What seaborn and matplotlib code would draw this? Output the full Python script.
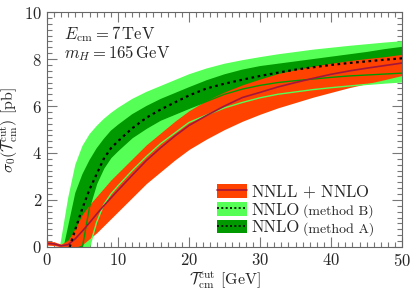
import numpy as np
import pandas as pd
import matplotlib
matplotlib.use("Agg")
import matplotlib.pyplot as plt
import seaborn as sns
from matplotlib.patches import Patch
from matplotlib.lines import Line2D
from matplotlib.ticker import MultipleLocator

# Tcm cut values [GeV]
tcut = [0, 1, 2, 3, 4, 5, 6, 7, 8, 9, 10, 12, 14, 16, 18, 20, 22.5, 25, 27.5,
        30, 32.5, 35, 37.5, 40, 42.5, 45, 47.5, 50]

# NNLL+NNLO: central, upper, lower
resum_c = [0.15, 0.13, 0.05, 0.1, 0.35, 0.68, 1.03, 1.4, 1.75, 2.08, 2.41, 3.05, 3.68, 4.22,
           4.72, 5.17, 5.6, 6.0, 6.36, 6.58, 6.81, 7.0, 7.18, 7.35, 7.49, 7.61, 7.72, 7.83]
resum_hi = [0.25, 0.22, 0.12, 0.3, 0.8, 1.4, 1.8, 2.15, 2.5, 2.85, 3.15, 3.75, 4.35, 4.85,
            5.35, 5.8, 6.25, 6.6, 6.9, 7.15, 7.38, 7.55, 7.7, 7.82, 7.93, 8.02, 8.1, 8.2]
resum_lo = [0.08, 0.06, 0.0, -0.05, -0.02, 0.1, 0.35, 0.6, 0.9, 1.2, 1.5, 2.1, 2.7, 3.2,
            3.7, 4.15, 4.6, 5.0, 5.35, 5.65, 5.92, 6.15, 6.38, 6.58, 6.78, 6.95, 7.12, 7.3]

# NNLO central (dotted)
nnlo_c = [-3.0, -2.5, -1.2, -0.2, 0.75, 1.65, 2.45, 3.1, 3.75, 4.2, 4.5, 5.05, 5.5, 5.85,
          6.15, 6.45, 6.75, 6.95, 7.12, 7.28, 7.42, 7.55, 7.65, 7.75, 7.83, 7.9, 7.97, 8.03]

# NNLO method B (wide band)
nnloB_hi = [-3.0, -1.5, 0.3, 2.1, 3.5, 4.3, 4.8, 5.15, 5.45, 5.7, 5.92, 6.3, 6.6, 6.85,
            7.1, 7.35, 7.6, 7.8, 7.95, 8.08, 8.2, 8.3, 8.4, 8.48, 8.56, 8.63, 8.7, 8.76]
nnloB_lo = [-5.0, -4.5, -3.5, -2.2, -1.0, -0.5, 0.0, 1.05, 1.8, 2.25, 2.6, 3.25, 3.85, 4.4,
            4.85, 5.3, 5.62, 5.92, 6.15, 6.35, 6.5, 6.6, 6.7, 6.78, 6.85, 6.92, 6.98, 7.03]

# NNLO method A (narrow band)
nnloA_hi = [-3.0, -2.0, -0.5, 0.9, 2.3, 3.1, 3.7, 4.2, 4.6, 4.95, 5.2, 5.65, 6.0, 6.3,
            6.55, 6.8, 7.1, 7.35, 7.55, 7.7, 7.8, 7.9, 8.0, 8.1, 8.2, 8.3, 8.42, 8.52]
nnloA_lo = [-5.0, -4.5, -3.5, -2.5, -1.2, 0.0, 1.7, 2.7, 3.35, 3.8, 4.1, 4.65, 5.05, 5.4,
            5.65, 5.9, 6.2, 6.5, 6.72, 6.88, 7.0, 7.08, 7.15, 7.22, 7.28, 7.32, 7.36, 7.4]

c_lgreen = "#55ff55"
c_dgreen = "#009a00"
c_red = "#ff4200"
c_line = "#a3163c"

sns.set_style("ticks")
plt.rcParams.update({
    "font.family": "serif",
    "font.serif": ["cmr10"],
    "mathtext.fontset": "cm",
    "axes.formatter.use_mathtext": True,
    "axes.unicode_minus": False,
})

df = pd.DataFrame({"t": tcut, "resum": resum_c, "nnlo": nnlo_c})

fig = plt.figure(figsize=(4.15, 2.94), dpi=100)
ax = fig.add_axes([0.113, 0.160, 0.856, 0.799])

ax.fill_between(tcut, nnloB_lo, nnloB_hi, color=c_lgreen, lw=0)
ax.fill_between(tcut, nnloA_lo, nnloA_hi, color=c_dgreen, lw=0)
ax.fill_between(tcut, resum_lo, resum_hi, color=c_red, lw=0)
ax.plot(tcut, nnloB_lo, color=c_lgreen, lw=1.0)
ax.plot(tcut, nnloA_lo, color=c_dgreen, lw=1.0)
sns.lineplot(data=df, x="t", y="resum", color=c_line, lw=1.2, ax=ax)
sns.lineplot(data=df, x="t", y="nnlo", color="black", lw=1.6, ax=ax,
             linestyle=(0, (1.2, 1.6)))

ax.set_xlim(0, 50)
ax.set_ylim(0, 10)
ax.xaxis.set_major_locator(MultipleLocator(10))
ax.xaxis.set_minor_locator(MultipleLocator(1))
ax.yaxis.set_major_locator(MultipleLocator(2))
ax.yaxis.set_minor_locator(MultipleLocator(0.25))
ax.tick_params(which="both", direction="in", top=True, right=True,
               color="#777777", width=0.8, labelsize=12)
ax.tick_params(which="major", length=7)
ax.tick_params(which="minor", length=3.5)
for s in ax.spines.values():
    s.set_color("#666666")
    s.set_linewidth(0.8)

ax.set_xlabel(r"$\mathcal{T}_{\rm cm}^{\rm cut}$ [GeV]", fontsize=11.5, labelpad=1)
ax.set_ylabel(r"$\sigma_0(\mathcal{T}_{\rm cm}^{\rm cut})$ [pb]", fontsize=11.5, labelpad=3)

ax.text(2.4, 9.06, r"$E_{\rm cm} = 7\,{\rm TeV}$", fontsize=12, va="center")
ax.text(2.4, 8.26, r"$m_H = 165\,{\rm GeV}$", fontsize=12, va="center")

dots = (0, (1.2, 1.4))
h1 = (Patch(color=c_red, lw=0), Line2D([], [], color=c_line, lw=1.2))
h2 = (Patch(color=c_lgreen, lw=0), Line2D([], [], color="black", lw=1.2, linestyle=dots))
h3 = (Patch(color=c_dgreen, lw=0), Line2D([], [], color="black", lw=1.2, linestyle=dots))
leg = ax.legend([h1, h2, h3], [r"NNLL$\,+\,$NNLO", "NNLO", "NNLO"], loc="lower left",
                bbox_to_anchor=(0.479, 0.05), frameon=False, fontsize=12,
                handlelength=1.8, handleheight=0.9, handletextpad=0.25,
                labelspacing=0.12, borderpad=0, borderaxespad=0)

# small "(method X)" after the NNLO labels
fig.canvas.draw()
for t, extra in zip(leg.get_texts()[1:], ["(method B)", "(method A)"]):
    bb = t.get_window_extent()
    base = t.get_transform().transform(t.get_position())
    fx, fy = fig.transFigure.inverted().transform((bb.x1 + 4, base[1]))
    fig.text(fx, fy, extra, fontsize=10, va="baseline", ha="left")

fig.savefig("out.png", dpi=100)
